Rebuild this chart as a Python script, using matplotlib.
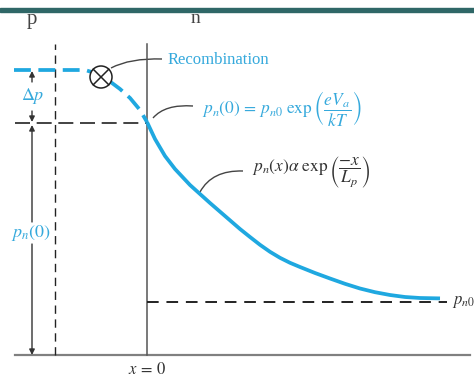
import matplotlib
matplotlib.use("Agg")
import matplotlib.pyplot as plt
from matplotlib.patches import Circle, Rectangle, PathPatch
from matplotlib.path import Path

plt.rcParams['font.family'] = ['Liberation Serif', 'DejaVu Serif']
plt.rcParams['mathtext.fontset'] = 'stix'

BLUE = '#1fa8e0'
TXT_BLUE = '#35a9dc'
DARK = '#333333'

# excess hole concentration, n side (x in units of 100 px, x=0 at junction)
x_n = [0.00, 0.08, 0.18, 0.28, 0.43, 0.63, 0.78, 0.93, 1.03, 1.13, 1.23, 1.33,
       1.43, 1.53, 1.68, 1.83, 1.98, 2.13, 2.28, 2.43, 2.58, 2.73, 2.93]
p_n = [2.33, 2.16, 1.99, 1.86, 1.70, 1.52, 1.39, 1.26, 1.18, 1.102, 1.032, 0.972,
       0.922, 0.88, 0.82, 0.765, 0.712, 0.665, 0.628, 0.60, 0.58, 0.57, 0.566]

# dashed part through the depletion region, up to recombination point
x_dep = [-1.33, -0.62, -0.52, -0.39, -0.27, -0.17, -0.07, 0.0]
p_dep = [2.85, 2.85, 2.82, 2.75, 2.66, 2.57, 2.45, 2.33]

pn0 = 0.53
pn_0 = 2.32
p_edge = 2.85
x_edge = -0.92
x_recomb, p_recomb = -0.46, 2.78

fig = plt.figure(figsize=(4.74, 3.77), dpi=100)
ax = fig.add_axes([0, 0, 1, 1])
ax.set_xlim(-1.47, 3.27)
ax.set_ylim(-0.22, 3.55)
ax.axis('off')

# header bar
fig.patches.append(Rectangle((0, 1 - 12 / 377), 1, 4 / 377, transform=fig.transFigure,
                             color='#2f6767', zorder=0))

ax.text(-1.15, 3.35, 'p', fontsize=15, color='#444444', ha='center', va='center')
ax.text(0.48, 3.36, 'n', fontsize=14, color='#444444', ha='center', va='center')

# axes / reference lines
ax.plot([-1.32, 3.23], [0, 0], color='#808080', lw=1.6)
ax.plot([0, 0], [0, 3.11], color='#555555', lw=1.1)
ax.plot([x_edge, x_edge], [0, 3.11], color='#222222', lw=1.0, dashes=(6, 4))
ax.plot([-1.32, 0], [pn_0, pn_0], color='#222222', lw=1.2, dashes=(9, 4))
ax.plot([0, 3.0], [pn0, pn0], color='#222222', lw=1.4, dashes=(6, 4))

# concentration curve
ax.plot(x_dep, p_dep, color=BLUE, lw=2.7, dashes=(4.5, 2))
ax.plot(x_n, p_n, color=BLUE, lw=2.7, solid_capstyle='butt', solid_joinstyle='round')

# recombination symbol
r = 0.11
ax.add_patch(Circle((x_recomb, p_recomb), r, facecolor='white', edgecolor='#222222', lw=1.1, zorder=5))
d = r * 0.707
ax.plot([x_recomb - d, x_recomb + d], [p_recomb - d, p_recomb + d], color='#222222', lw=1.1, zorder=6)
ax.plot([x_recomb - d, x_recomb + d], [p_recomb + d, p_recomb - d], color='#222222', lw=1.1, zorder=6)


def leader(p0, c, p1):
    path = Path([p0, c, p1], [Path.MOVETO, Path.CURVE3, Path.CURVE3])
    ax.add_patch(PathPatch(path, fill=False, edgecolor='#444444', lw=1.0))


leader((-0.36, 2.87), (-0.17, 2.97), (0.15, 2.96))
leader((0.06, 2.37), (0.18, 2.51), (0.46, 2.49))
leader((0.53, 1.63), (0.65, 1.85), (0.96, 1.84))

ax.text(0.21, 2.95, 'Recombination', fontsize=12, color=TXT_BLUE, ha='left', va='center')
ax.text(0.55, 2.46, r'$p_n(0)\,=\,p_{n0}\ \exp\left(\dfrac{eV_a}{kT}\right)$',
        fontsize=12.5, color=TXT_BLUE, ha='left', va='center')
ax.text(1.05, 1.83, r'$p_n(x)\alpha\ \exp\left(\dfrac{-x}{L_p}\right)$',
        fontsize=12.5, color=DARK, ha='left', va='center')
ax.text(3.05, pn0, r'$p_{n0}$', fontsize=12, color=DARK, ha='left', va='center')
ax.text(0, -0.145, r'$x\,=\,0$', fontsize=12, color=DARK, ha='center', va='center')

# dimension arrows
xa = -1.15
arr = dict(arrowstyle='-|>', color=DARK, lw=1.0, mutation_scale=8, shrinkA=0, shrinkB=0)
ax.annotate('', xy=(xa, p_edge - 0.01), xytext=(xa, 2.73), arrowprops=arr)
ax.annotate('', xy=(xa, pn_0 + 0.01), xytext=(xa, 2.44), arrowprops=arr)
ax.annotate('', xy=(xa, pn_0 - 0.02), xytext=(xa, 1.33), arrowprops=arr)
ax.annotate('', xy=(xa, 0.0), xytext=(xa, 1.11), arrowprops=arr)
ax.text(xa + 0.01, 2.59, r'$\Delta p$', fontsize=13, color=TXT_BLUE, ha='center', va='center')
ax.text(xa - 0.01, 1.22, r'$p_n(0)$', fontsize=13, color=TXT_BLUE, ha='center', va='center')

fig.savefig('out.png', dpi=100)
